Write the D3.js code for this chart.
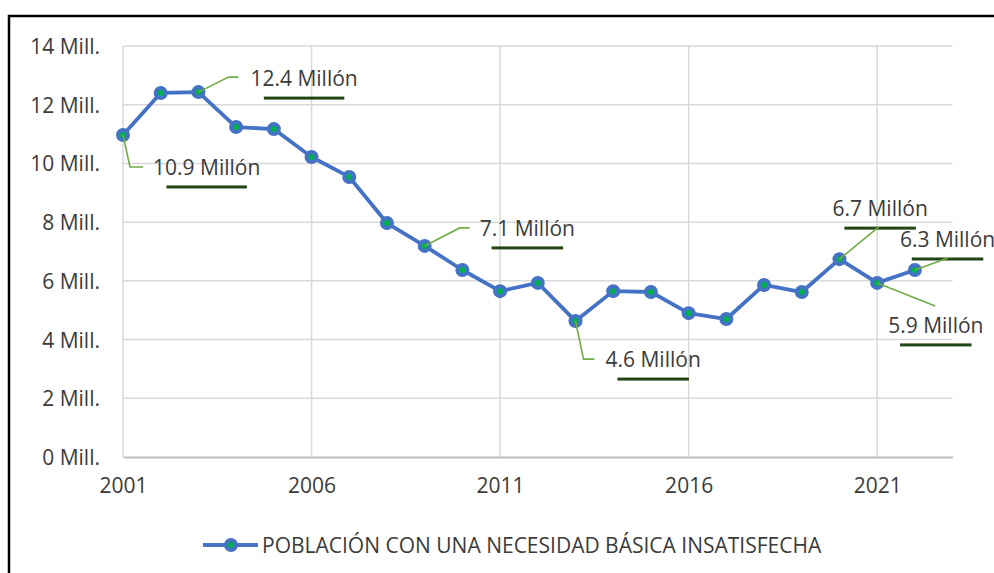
<!DOCTYPE html>
<html>
<head>
<meta charset="utf-8">
<script src="https://cdn.jsdelivr.net/npm/d3@7"></script>
<style>
  body { margin:0; background:#fff; }
  text { font-family: "Open Sans", "Noto Sans", sans-serif; fill:#3b3b3b; }
</style>
</head>
<body>
<div id="chart"></div>
<script>
// data
const years = d3.range(2001, 2023)
const values = [10.97, 12.40, 12.43, 11.24, 11.17, 10.22, 9.54, 7.97, 7.19, 6.37, 5.65,
                5.93, 4.63, 5.65, 5.62, 4.90, 4.70, 5.86, 5.62, 6.74, 5.93, 6.37]
const yTicks = [0, 2, 4, 6, 8, 10, 12, 14]
const xTicks = [2001, 2006, 2011, 2016, 2021]
const seriesName = "POBLACIÓN CON UNA NECESIDAD BÁSICA INSATISFECHA"
const labelYears = [2001, 2003, 2009, 2013, 2020, 2021, 2022]
const labelTexts = ["10.9 Millón", "12.4 Millón", "7.1 Millón", "4.6 Millón", "6.7 Millón", "5.9 Millón", "6.3 Millón"]

// label placement (offsets from the point, px)
const labelLayout = [
  {dx:30, dy:40, leader:[[0,0],[7,32],[20,32]]},
  {dx:52, dy:-6, leader:[[0,0],[30,-15],[40,-15]]},
  {dx:55, dy:-10, leader:[[0,0],[35,-18],[45,-18]]},
  {dx:30, dy:46, leader:[[0,0],[8,38],[19,38]]},
  {dx:-7, dy:-43, leader:[[0,0],[39,-32]]},
  {dx:11, dy:50, leader:[[0,0],[58,23]]},
  {dx:-15, dy:-23, leader:[[0,0],[33,-12]]}
]

const W = 994, H = 573
const plot = {left:123, right:952.6, top:46, bottom:457}
const fs = "21px"

const svg = d3.select("#chart").append("svg").attr("width", W).attr("height", H)

const defs = svg.append("defs")
defs.append("filter").attr("id","soft").attr("x","-10%").attr("y","-100%").attr("width","120%").attr("height","300%")
  .append("feGaussianBlur").attr("stdDeviation", 0.5)

// frame
svg.append("rect").attr("x", 9).attr("y", 16).attr("width", W + 20).attr("height", H + 20)
  .attr("fill","none").attr("stroke","#000").attr("stroke-width", 2.5)

const x = d3.scaleLinear().domain([2001, 2023]).range([plot.left, plot.right])
const y = d3.scaleLinear().domain([0, 14]).range([plot.bottom, plot.top])

// grid
const grid = svg.append("g")
grid.selectAll(".hg").data(yTicks.filter(d => d > 0)).enter().append("line")
  .attr("x1", plot.left).attr("x2", plot.right)
  .attr("y1", d => y(d)).attr("y2", d => y(d))
  .attr("stroke","#d9d9d9").attr("stroke-width", 1.5)
grid.selectAll(".vg").data(xTicks).enter().append("line")
  .attr("x1", d => x(d)).attr("x2", d => x(d))
  .attr("y1", plot.top).attr("y2", plot.bottom)
  .attr("stroke","#d9d9d9").attr("stroke-width", 1.5)

// axes
const yAxis = d3.axisLeft(y).tickValues(yTicks).tickSize(0).tickPadding(23).tickFormat(d => d + " Mill.")
const yG = svg.append("g").attr("transform", `translate(${plot.left},0)`).call(yAxis)
yG.select(".domain").remove()
yG.selectAll("text").style("font-size", fs).attr("fill","#3b3b3b").attr("dy","0.36em")

const xAxis = d3.axisBottom(x).tickValues(xTicks).tickSize(0).tickPadding(21).tickFormat(d3.format("d"))
const xG = svg.append("g").attr("transform", `translate(0,${plot.bottom})`).call(xAxis)
xG.select(".domain").attr("stroke","#bfbfbf").attr("stroke-width", 2)
xG.selectAll("text").style("font-size", fs).attr("fill","#3b3b3b")

// series
const pts = years.map((yr, i) => ({year: yr, value: values[i]}))
const line = d3.line().x(d => x(d.year)).y(d => y(d.value))
svg.append("path").datum(pts).attr("d", line)
  .attr("fill","none").attr("stroke","#4472c4").attr("stroke-width", 3.8).attr("stroke-linejoin","round")
svg.selectAll(".pt").data(pts).enter().append("circle")
  .attr("cx", d => x(d.year)).attr("cy", d => y(d.value)).attr("r", 5)
  .attr("fill","#00b050").attr("stroke","#4472c4").attr("stroke-width", 4)

// data labels
const labels = labelYears.map((yr, i) => {
  const v = values[years.indexOf(yr)]
  return {px: x(yr), py: y(v), text: labelTexts[i], ...labelLayout[i]}
})
const lg = svg.append("g")
labels.forEach(l => {
  lg.append("path")
    .attr("d", d3.line()(l.leader.map(p => [l.px + p[0], l.py + p[1]])))
    .attr("fill","none").attr("stroke","#70ad47").attr("stroke-width", 1.6)
  const t = lg.append("text").attr("x", l.px + l.dx).attr("y", l.py + l.dy)
    .style("font-size", fs).text(l.text)
  const w = t.node().getComputedTextLength()
  const uw = w * 0.75
  lg.insert("rect", "text").attr("x", l.px + l.dx + (w - uw) / 2).attr("y", l.py + l.dy + 10.5)
    .attr("width", uw).attr("height", 3).attr("fill","#244412").attr("filter","url(#soft)")
})

// legend
const leg = svg.append("g").attr("transform","translate(203,545)")
leg.append("line").attr("x1",0).attr("x2",55).attr("y1",0).attr("y2",0)
  .attr("stroke","#4472c4").attr("stroke-width",3.8)
leg.append("circle").attr("cx",28).attr("cy",0).attr("r",5)
  .attr("fill","#00b050").attr("stroke","#4472c4").attr("stroke-width",4)
leg.append("text").attr("x",59).attr("y",7.5).style("font-size","21px").text(seriesName)
</script>
</body>
</html>
